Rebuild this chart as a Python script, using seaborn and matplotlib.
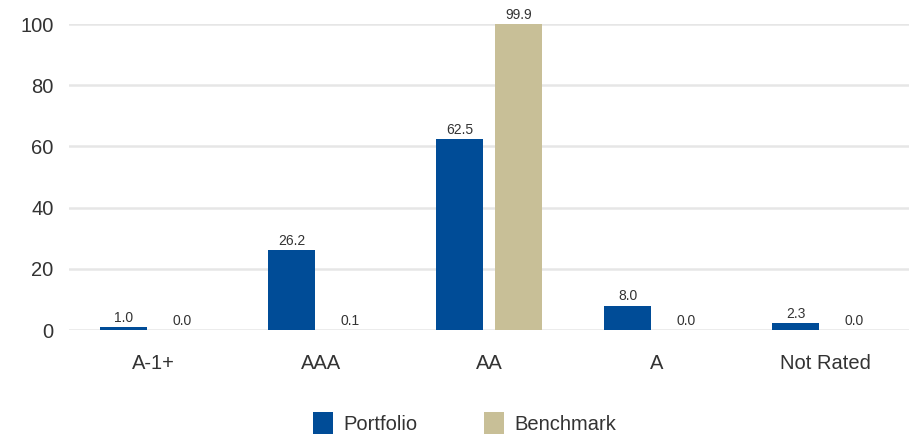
import pandas as pd
import seaborn as sns
import matplotlib.pyplot as plt

categories = ["A-1+", "AAA", "AA", "A", "Not Rated"]
portfolio = [1.0, 26.2, 62.5, 8.0, 2.3]
benchmark = [0.0, 0.1, 99.9, 0.0, 0.0]
series = ["Portfolio", "Benchmark"]
colors = ["#004C97", "#C8BF97"]

df = pd.DataFrame({
    "rating": categories * 2,
    "value": portfolio + benchmark,
    "series": [series[0]] * len(categories) + [series[1]] * len(categories),
})

sns.set_style("white")
plt.rcParams['font.family'] = ['Liberation Sans', 'DejaVu Sans']

fig = plt.figure(figsize=(9.2, 4.4), dpi=100)
ax = fig.add_axes([69 / 920, 110 / 440, 840 / 920, 306 / 440])

sns.barplot(data=df, x="rating", y="value", hue="series", order=categories,
            hue_order=series, palette=colors, saturation=1, width=0.7, gap=0.2,
            edgecolor=None, linewidth=0, ax=ax, legend=True)

for cont in ax.containers:
    labels = ax.bar_label(cont, fmt="%.1f", padding=1.5, fontsize=10, color="#333333")
    for t in labels:
        t.set_clip_on(False)

ax.set_ylim(0, 100)
ax.set_xlim(-0.5, 4.5)
ax.set_yticks([0, 20, 40, 60, 80, 100])
ax.yaxis.grid(True, color="#e6e6e6", linewidth=1.8)
ax.set_axisbelow(True)
for s in ax.spines.values():
    s.set_visible(False)
ax.tick_params(axis="both", length=0, labelsize=14.5, colors="#333333")
ax.tick_params(axis="x", pad=17)
ax.tick_params(axis="y", pad=11)
ax.set_xlabel("")
ax.set_ylabel("")

handles, lbls = ax.get_legend_handles_labels()
ax.legend_.remove()
fig.legend(handles, lbls, loc="lower center", bbox_to_anchor=(0.505, -0.016),
           ncol=2, frameon=False, fontsize=14.5, handlelength=1.0, handleheight=1.3,
           handletextpad=0.5, columnspacing=3.3, labelcolor="#333333",
           borderpad=0.15)

fig.savefig("out.png", dpi=100, facecolor="white")
